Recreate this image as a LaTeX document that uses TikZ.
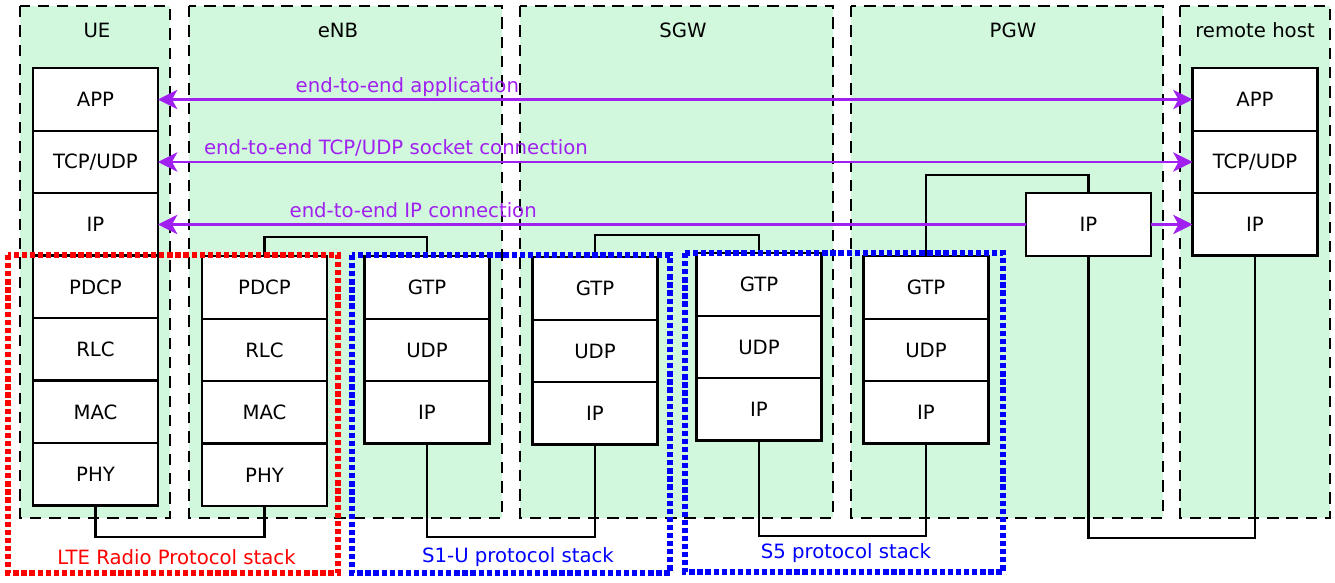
\documentclass[tikz,border=0pt]{standalone}
\usepackage{fontspec}
\setmainfont{DejaVu Sans}
\usetikzlibrary{positioning,arrows.meta}

\definecolor{hostgreen}{RGB}{209,247,221}
\definecolor{e2epurple}{RGB}{160,32,240}

\tikzset{
  entity/.style={fill=hostgreen, draw=black, line width=1.4pt, dash pattern=on 6.5pt off 4.5pt},
  layer/.style={draw, fill=white, line width=1.4pt, minimum width=2.5cm, minimum height=1.25cm, inner sep=0pt, outer sep=0pt},
  link/.style={line width=1.2pt},
  e2e/.style={draw=e2epurple, line width=1.5pt, >={Stealth[length=11pt,width=11pt,inset=3pt]}},
  e2etext/.style={text=e2epurple, above=3.4pt, inner sep=0pt, text depth=0pt},
  stackframe/.style={line width=3.2pt, dash pattern=on 3pt off 1.6pt}
}

\begin{document}
\begin{tikzpicture}[x=0.02cm, y=-0.02cm, font=\fontsize{11.2}{13}\selectfont]

\useasboundingbox (0,0) rectangle (1335,582);

\draw[entity] (20,6) rectangle (170,518);
\draw[entity] (189,6) rectangle (502,518);
\draw[entity] (520,6) rectangle (833,518);
\draw[entity] (851,6) rectangle (1163,518);
\draw[entity] (1180,6) rectangle (1330,518);

\node (uetitle) at (97,30) {UE};
\node (enbtitle) at (338,30) {eNB};
\node (sgwtitle) at (683,30) {SGW};
\node (pgwtitle) at (1013,30) {PGW};
\node (rhtitle) at (1255,30) {remote host};

\node[layer] (ueapp) at (95.5,99.5) {APP};
\node[layer, below=0pt of ueapp] (uetcp) {TCP/UDP};
\node[layer, below=0pt of uetcp] (ueip) {IP};
\node[layer, below=0pt of ueip] (uepdcp) {PDCP};
\node[layer, below=0pt of uepdcp] (uerlc) {RLC};
\node[layer, below=0pt of uerlc] (uemac) {MAC};
\node[layer, below=0pt of uemac] (uephy) {PHY};

\node[layer] (enbpdcp) at (264.5,287.5) {PDCP};
\node[layer, below=0pt of enbpdcp] (enbrlc) {RLC};
\node[layer, below=0pt of enbrlc] (enbmac) {MAC};
\node[layer, below=0pt of enbmac] (enbphy) {PHY};

\node[layer] (enbgtp) at (427,287.5) {GTP};
\node[layer, below=0pt of enbgtp] (enbudp) {UDP};
\node[layer, below=0pt of enbudp] (enbip) {IP};

\node[layer] (sgws1gtp) at (595,288.5) {GTP};
\node[layer, below=0pt of sgws1gtp] (sgws1udp) {UDP};
\node[layer, below=0pt of sgws1udp] (sgws1ip) {IP};

\node[layer] (sgws5gtp) at (759,284.5) {GTP};
\node[layer, below=0pt of sgws5gtp] (sgws5udp) {UDP};
\node[layer, below=0pt of sgws5udp] (sgws5ip) {IP};

\node[layer] (pgwgtp) at (926,287.5) {GTP};
\node[layer, below=0pt of pgwgtp] (pgwudp) {UDP};
\node[layer, below=0pt of pgwudp] (pgws5ip) {IP};
\node[layer] (pgwip) at (1088.5,224.5) {IP};

\node[layer] (rhapp) at (1255,99.5) {APP};
\node[layer, below=0pt of rhapp] (rhtcp) {TCP/UDP};
\node[layer, below=0pt of rhtcp] (rhip) {IP};

\draw[link] (enbpdcp.north) -- ++(0,-19) -| (enbgtp.north);
\draw[link] (sgws1gtp.north) -- ++(0,-22) -| (sgws5gtp.north);
\draw[link] (pgwgtp.north) -- ++(0,-81) -| (pgwip.north);

\draw[link] (uephy.south) -- ++(0,31) -| (enbphy.south);
\draw[link] (enbip.south) -- ++(0,93) -| (sgws1ip.south);
\draw[link] (sgws5ip.south) -- ++(0,95) -| (pgws5ip.south);
\draw[link] (pgwip.south) -- ++(0,282) -| (rhip.south);

\draw[e2e, <->] (ueapp.east) -- (rhapp.west) node[e2etext, pos=0.241] (lblapp) {end-to-end application};
\draw[e2e, <->] (uetcp.east) -- (rhtcp.west) node[e2etext, pos=0.23] (lbltcp) {end-to-end TCP/UDP socket connection};
\draw[e2e, <-] (ueip.east) -- (pgwip.west) node[e2etext, pos=0.294] (lblip) {end-to-end IP connection};
\draw[e2e, ->] (pgwip.east) -- (rhip.west);

\draw[stackframe, red] (8,255) rectangle (338,573);
\draw[stackframe, blue] (352,255) rectangle (670,573);
\draw[stackframe, blue] (685,253) rectangle (1003,572);

\node[text=red] (lbllte) at (176.5,557) {LTE Radio Protocol stack};
\node[text=blue] (lbls1u) at (518,557) {S1-U protocol stack};
\node[text=blue] (lbls5) at (846,553) {S5 protocol stack};

\end{tikzpicture}
\end{document}
